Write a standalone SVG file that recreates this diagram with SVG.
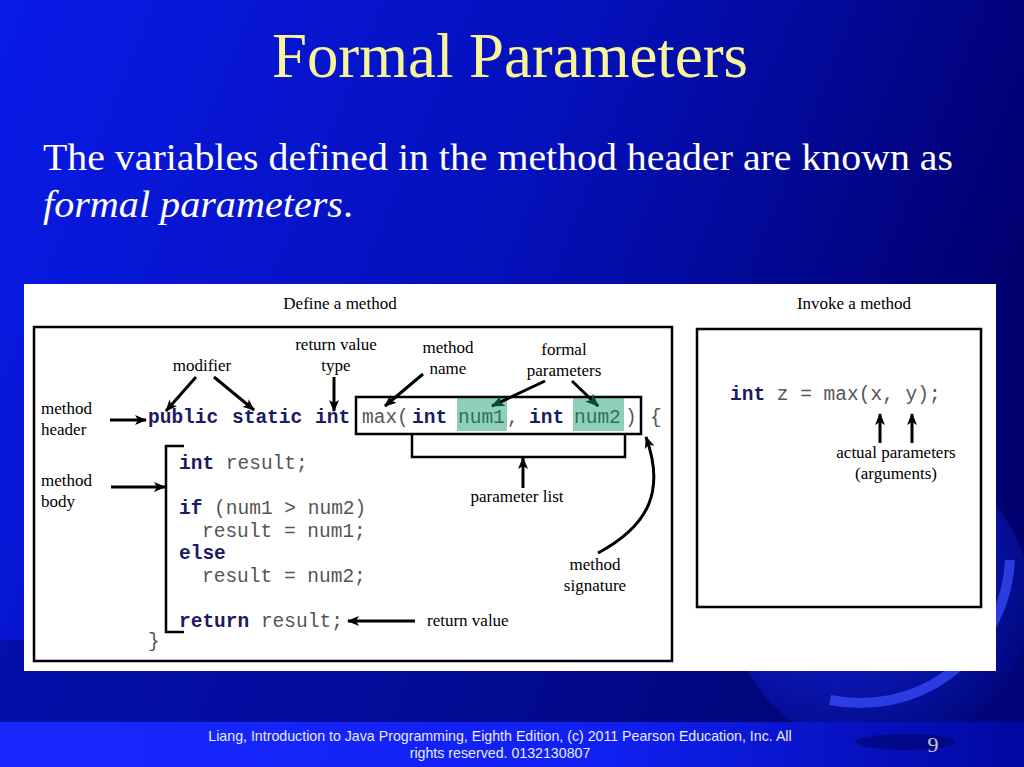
<svg xmlns="http://www.w3.org/2000/svg" width="1024" height="767" viewBox="0 0 1024 767">
<defs>
<linearGradient id="bg" x1="0" y1="0" x2="1" y2="0.3">
<stop offset="0" stop-color="#0a1ae8"/>
<stop offset="0.55" stop-color="#0410b8"/>
<stop offset="1" stop-color="#010070"/>
</linearGradient>
<linearGradient id="foot" x1="0" y1="0" x2="1" y2="0">
<stop offset="0" stop-color="#1a28ff"/>
<stop offset="0.6" stop-color="#1020f0"/>
<stop offset="1" stop-color="#0008a0"/>
</linearGradient>
<radialGradient id="globe" cx="0.35" cy="0.35" r="0.7">
<stop offset="0" stop-color="#1a28f0"/>
<stop offset="1" stop-color="#000880"/>
</radialGradient>
<marker id="ah" viewBox="0 0 12 10" refX="11" refY="5" markerWidth="4" markerHeight="4" orient="auto" markerUnits="strokeWidth">
<path d="M0,0 L12,5 L0,10 L3,5 z" fill="#000"/>
</marker>
<marker id="ahg" viewBox="0 0 12 10" refX="11" refY="5" markerWidth="4.5" markerHeight="4.5" orient="auto" markerUnits="strokeWidth">
<path d="M0,0 L12,5 L0,10 L3,5 z" fill="#0a4a38"/>
</marker>
<style>
.lbl{font-family:"Liberation Serif","Times New Roman",serif;font-size:17px;fill:#000}
.code{font-family:"Liberation Mono","Courier New",monospace;font-size:19.5px;fill:#555}
.kw{font-weight:bold;fill:#1a1a66}
.hl{fill:#2f6f60}
.box{fill:none;stroke:#000;stroke-width:2.5}
.arr{fill:none;stroke:#000;stroke-width:3;marker-end:url(#ah)}
.arrg{fill:none;stroke:#000;stroke-width:3;marker-end:url(#ahg)}
</style>
</defs>
<rect width="1024" height="767" fill="url(#bg)"/>
<rect x="0" y="640" width="1024" height="90" fill="#020a80" opacity="0.5"/>
<circle cx="880" cy="600" r="150" fill="url(#globe)"/>
<path d="M830,700 A150,150 0 0 0 1010,560" fill="none" stroke="#3a50ff" stroke-width="10" opacity="0.7"/>
<rect x="0" y="722" width="1024" height="45" fill="url(#foot)"/>
<ellipse cx="905" cy="742" rx="50" ry="8" fill="#000050" opacity="0.45"/>
<g id="title">
<text x="272" y="77" textLength="476" lengthAdjust="spacingAndGlyphs" font-family="Liberation Serif, Times New Roman, serif" font-size="63" fill="#f8f49a">Formal Parameters</text>
</g>
<g id="subtitle" font-family="Liberation Serif, Times New Roman, serif" font-size="38" fill="#ffffff">
<text x="43" y="170" textLength="910" lengthAdjust="spacingAndGlyphs">The variables defined in the method header are known as</text>
<text x="43" y="217" textLength="310" lengthAdjust="spacingAndGlyphs"><tspan font-style="italic">formal parameters</tspan>.</text>
</g>
<rect x="24" y="284" width="972" height="387" fill="#ffffff"/>
<g id="define-box">
<path class="box" d="M34,327 H672 V661 H34 Z"/>
<text class="lbl" x="340" y="309" text-anchor="middle">Define a method</text>
</g>
<g id="invoke-box">
<path class="box" d="M697,329 H981 V607 H697 Z"/>
<text class="lbl" x="854" y="309" text-anchor="middle">Invoke a method</text>
</g>
<g id="header-code">
<rect x="457" y="397" width="50" height="34" fill="#8fd1b8"/>
<rect x="573" y="397" width="51" height="34" fill="#8fd1b8"/>
<rect x="356" y="397" width="285" height="37" fill="none" stroke="#000" stroke-width="2.5"/>
<text class="code kw" x="148" y="423">public</text>
<text class="code kw" x="232" y="423">static</text>
<text class="code kw" x="315" y="423">int</text>
<text class="code" x="362" y="423">max(</text>
<text class="code kw" x="412" y="423">int</text>
<text class="code hl" x="458" y="423">num1</text>
<text class="code" x="507" y="423">,</text>
<text class="code kw" x="529" y="423">int</text>
<text class="code hl" x="574" y="423">num2</text>
<text class="code" x="625" y="423">)</text>
<text class="code" x="650" y="423">{</text>
</g>
<g id="body-code">
<path d="M184,446 H166 V632 H184" fill="none" stroke="#000" stroke-width="2.5"/>
<text class="code" x="179" y="469"><tspan class="kw">int</tspan> result;</text>
<text class="code" x="179" y="514"><tspan class="kw">if</tspan> (num1 &gt; num2)</text>
<text class="code" x="202" y="537">result = num1;</text>
<text class="code kw" x="179" y="559">else</text>
<text class="code" x="202" y="582">result = num2;</text>
<text class="code" x="179" y="627"><tspan class="kw">return</tspan> result;</text>
<text class="code" x="148" y="647">}</text>
</g>
<g id="invoke-code">
<text class="code" x="730" y="400"><tspan class="kw">int</tspan> z = max(x, y);</text>
</g>
<g id="labels">
<text class="lbl" x="202" y="371" text-anchor="middle">modifier</text>
<text class="lbl" x="336" y="350" text-anchor="middle">return value</text>
<text class="lbl" x="336" y="371" text-anchor="middle">type</text>
<text class="lbl" x="448" y="353" text-anchor="middle">method</text>
<text class="lbl" x="448" y="374" text-anchor="middle">name</text>
<text class="lbl" x="564" y="355" text-anchor="middle">formal</text>
<text class="lbl" x="564" y="376" text-anchor="middle">parameters</text>
<text class="lbl" x="41" y="414">method</text>
<text class="lbl" x="41" y="435">header</text>
<text class="lbl" x="41" y="486">method</text>
<text class="lbl" x="41" y="507">body</text>
<text class="lbl" x="517" y="502" text-anchor="middle">parameter list</text>
<text class="lbl" x="595" y="570" text-anchor="middle">method</text>
<text class="lbl" x="595" y="591" text-anchor="middle">signature</text>
<text class="lbl" x="427" y="626">return value</text>
<text class="lbl" x="896" y="458" text-anchor="middle">actual parameters</text>
<text class="lbl" x="896" y="479" text-anchor="middle">(arguments)</text>
</g>
<g id="connectors">
<path class="arr" d="M110,420 H146"/>
<path class="arr" d="M196,377 L166,411"/>
<path class="arr" d="M214,377 L254,410"/>
<path class="arr" d="M334,377 V411"/>
<path class="arr" d="M423,374 L385,406"/>
<path class="arrg" d="M545,381 L492,406"/>
<path class="arrg" d="M572,381 L598,406"/>
<path d="M412,434 V457 H625 V434" fill="none" stroke="#000" stroke-width="2.5"/>
<path class="arr" d="M523,488 V458"/>
<path class="arr" d="M598,553 C650,525 665,490 646,437"/>
<path class="arr" d="M111,487 H165"/>
<path class="arr" d="M415,621 H348"/>
<path class="arr" d="M880,443 V414"/>
<path class="arr" d="M912,443 V414"/>
</g>
<g id="footer">
<text x="500" y="741" text-anchor="middle" font-family="Liberation Sans, Arial, sans-serif" font-size="14.2" fill="#e8e8ff">Liang, Introduction to Java Programming, Eighth Edition, (c) 2011 Pearson Education, Inc. All</text>
<text x="500" y="758" text-anchor="middle" font-family="Liberation Sans, Arial, sans-serif" font-size="14.2" fill="#e8e8ff">rights reserved. 0132130807</text>
<text x="933" y="752" text-anchor="middle" font-family="Liberation Serif, Times New Roman, serif" font-size="22" fill="#c8c8d8">9</text>
</g>
</svg>
